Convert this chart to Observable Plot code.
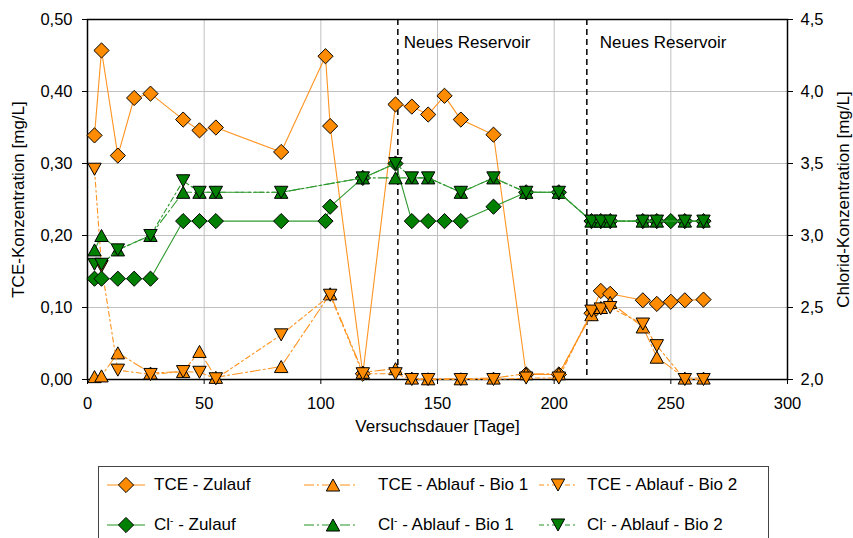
<!DOCTYPE html>
<html><head><meta charset="utf-8">
<script src="https://cdn.jsdelivr.net/npm/d3@7"></script>
<script src="https://cdn.jsdelivr.net/npm/@observablehq/plot@0.6"></script>
<style>
body{margin:0;background:#fff;font-family:"Liberation Sans",Arial,sans-serif;}
#wrap{position:relative;width:853px;height:538px;overflow:hidden;background:#fff;}
#legend{position:absolute;left:98px;top:466px;width:671px;height:100px;border:1px solid #444;box-sizing:border-box;}
.lg-icon{position:absolute;}
.lg-text{position:absolute;font-size:17px;line-height:20px;color:#000;white-space:nowrap;}
.lg-text sup{font-size:10px;vertical-align:6px;line-height:0;}
</style></head>
<body><div id="wrap"><div id="chart"></div><div id="legend"></div></div>
<script>
// ---------- data ----------
const xTicks = [0, 50, 100, 150, 200, 250, 300];
const tceTicks = [0, 0.1, 0.2, 0.3, 0.4, 0.5];
const clTicks = [2.0, 2.5, 3.0, 3.5, 4.0, 4.5];
const reservoirDays = [133, 214];

const zulaufDays = [3, 6, 13, 20, 27, 41, 48, 55, 83, 102, 104, 118, 132, 139, 146, 153, 160, 174, 188, 202, 216, 220, 224, 238, 244, 250, 256, 264];
const tceZulauf = [0.339, 0.457, 0.311, 0.391, 0.397, 0.361, 0.346, 0.350, 0.316, 0.449, 0.352, 0.008, 0.382, 0.379, 0.368, 0.394, 0.361, 0.340, 0.007, 0.007, 0.092, 0.123, 0.119, 0.110, 0.105, 0.108, 0.110, 0.111];
const clZulauf = [2.7, 2.7, 2.7, 2.7, 2.7, 3.1, 3.1, 3.1, 3.1, 3.1, 3.2, 3.4, 3.5, 3.1, 3.1, 3.1, 3.1, 3.2, 3.3, 3.3, 3.1, 3.1, 3.1, 3.1, 3.1, 3.1, 3.1, 3.1];

const tceAblaufDays = [3, 6, 13, 27, 41, 48, 55, 83, 104, 118, 132, 139, 146, 160, 174, 188, 202, 216, 220, 224, 238, 244, 256, 264];
const tceBio1 = [0.004, 0.005, 0.037, 0.009, 0.011, 0.039, 0.003, 0.018, 0.119, 0.010, 0.015, 0.002, 0.001, 0.001, 0.002, 0.008, 0.008, 0.090, 0.100, 0.107, 0.073, 0.031, 0.002, 0.002];
const tceBio2 = [0.292, 0.157, 0.013, 0.007, 0.011, 0.010, 0.001, 0.062, 0.117, 0.008, 0.008, 0.000, 0.000, 0.000, 0.000, 0.002, 0.002, 0.095, 0.098, 0.100, 0.077, 0.047, 0.000, 0.000];

const clAblaufDays = [3, 6, 13, 27, 41, 48, 55, 83, 118, 132, 139, 146, 160, 174, 188, 202, 216, 220, 224, 238, 244, 256, 264];
const clBio1 = [2.9, 3.0, 2.9, 3.0, 3.3, 3.3, 3.3, 3.3, 3.4, 3.4, 3.4, 3.4, 3.3, 3.4, 3.3, 3.3, 3.1, 3.1, 3.1, 3.1, 3.1, 3.1, 3.1];
const clBio2 = [2.8, 2.8, 2.9, 3.0, 3.38, 3.3, 3.3, 3.3, 3.4, 3.5, 3.4, 3.4, 3.3, 3.4, 3.3, 3.3, 3.1, 3.1, 3.1, 3.1, 3.1, 3.1, 3.1];

const labels = {
  x: "Versuchsdauer [Tage]",
  yLeft: "TCE-Konzentration [mg/L]",
  yRight: "Chlorid-Konzentration [mg/L]",
  reservoir: "Neues Reservoir"
};

// ---------- styling ----------
const ORANGE = "#ff8c00", ORANGE_LINE = "#ff9421";
const GREEN = "#008000", GREEN_LINE = "#2f9a2f";
const DASH1 = "10,3,2,3", DASH2 = "5,3,2,3";

// custom symbols (r = half-extent)
const rOf = size => Math.sqrt(size / Math.PI);
const diamondSym = {draw(ctx, size){ const r = rOf(size); ctx.moveTo(0,-r); ctx.lineTo(r,0); ctx.lineTo(0,r); ctx.lineTo(-r,0); ctx.closePath(); }};
const triUpSym = {draw(ctx, size){ const r = rOf(size), h = r*0.9; ctx.moveTo(0,-h); ctx.lineTo(r,h); ctx.lineTo(-r,h); ctx.closePath(); }};
const triDownSym = {draw(ctx, size){ const r = rOf(size), h = r*0.9; ctx.moveTo(0,h); ctx.lineTo(r,-h); ctx.lineTo(-r,-h); ctx.closePath(); }};

const toLeft = v => (v - 2) / 5; // Chlorid axis -> TCE axis
const comma = (v, n) => v.toFixed(n).replace(".", ",");

const series = [
  {name: "TCE - Zulauf", days: zulaufDays, vals: tceZulauf, cl: false, sym: diamondSym, r: 7.6, fill: ORANGE, line: ORANGE_LINE, dash: null},
  {name: "TCE - Ablauf - Bio 1", days: tceAblaufDays, vals: tceBio1, cl: false, sym: triUpSym, r: 6.7, fill: ORANGE, line: ORANGE_LINE, dash: DASH1},
  {name: "TCE - Ablauf - Bio 2", days: tceAblaufDays, vals: tceBio2, cl: false, sym: triDownSym, r: 6.7, fill: ORANGE, line: ORANGE_LINE, dash: DASH2},
  {name: "Cl - Zulauf", days: zulaufDays, vals: clZulauf, cl: true, sym: diamondSym, r: 7.6, fill: GREEN, line: GREEN_LINE, dash: null},
  {name: "Cl - Ablauf - Bio 1", days: clAblaufDays, vals: clBio1, cl: true, sym: triUpSym, r: 6.7, fill: GREEN, line: GREEN_LINE, dash: DASH1},
  {name: "Cl - Ablauf - Bio 2", days: clAblaufDays, vals: clBio2, cl: true, sym: triDownSym, r: 6.7, fill: GREEN, line: GREEN_LINE, dash: DASH2}
];

const dataMarks = [];
for (const s of series) {
  const rows = s.days.map((d, i) => ({x: d, y: s.cl ? toLeft(s.vals[i]) : s.vals[i]}));
  dataMarks.push(Plot.line(rows, {x: "x", y: "y", stroke: s.line, strokeWidth: 1.1, strokeDasharray: s.dash || undefined}));
  dataMarks.push(Plot.dot(rows, {x: "x", y: "y", symbol: s.sym, r: s.r, fill: s.fill, stroke: "#000", strokeWidth: 1}));
}

const chart = Plot.plot({
  width: 853,
  height: 455,
  marginLeft: 87,
  marginRight: 66,
  marginTop: 19,
  marginBottom: 76,
  style: {fontFamily: '"Liberation Sans", Arial, sans-serif', fontSize: "16.5px", color: "#000", background: "#fff", overflow: "visible"},
  x: {domain: [0, 300]},
  y: {domain: [0, 0.5]},
  marks: [
    Plot.gridX(xTicks.slice(1, -1), {stroke: "#c0c0c0", strokeOpacity: 1, strokeWidth: 1}),
    Plot.gridY(tceTicks.slice(1, -1), {stroke: "#c0c0c0", strokeOpacity: 1, strokeWidth: 1}),
    Plot.ruleX(reservoirDays, {stroke: "#000", strokeWidth: 1.5, strokeDasharray: "6,4"}),
    Plot.frame({stroke: "#000", strokeWidth: 1.5}),
    Plot.axisX(xTicks, {tickSize: 5, tickPadding: 13, tickFormat: d => String(d), label: null}),
    Plot.axisY(tceTicks, {tickSize: 5, tickPadding: 10, tickFormat: d => comma(d, 2), label: null}),
    Plot.axisY(clTicks.map(toLeft), {anchor: "right", tickSize: 5, tickPadding: 8, tickFormat: d => comma(d * 5 + 2, 1), label: null}),
    Plot.text([labels.yLeft], {frameAnchor: "left", textAnchor: "middle", dx: -69, rotate: -90, fontSize: 17}),
    Plot.text([labels.yRight], {frameAnchor: "right", textAnchor: "middle", dx: 56, rotate: -90, fontSize: 17}),
    Plot.text([labels.x], {frameAnchor: "bottom", dy: 52, fontSize: 17}),
    Plot.text([labels.reservoir], {x: reservoirDays[0], frameAnchor: "top", textAnchor: "start", dx: 6, dy: 16, fontSize: 17}),
    Plot.text([labels.reservoir], {x: reservoirDays[1], frameAnchor: "top", textAnchor: "start", dx: 13, dy: 16, fontSize: 17}),
    ...dataMarks
  ]
});
document.getElementById("chart").appendChild(chart);

// ---------- legend ----------
const legend = document.getElementById("legend");
const cols = [{line: [8, 46], mark: 27, text: 55}, {line: [205, 259], mark: 234, text: 279}, {line: [440, 479], mark: 459, text: 488}];
const rowsY = [18, 58];
series.forEach((s, i) => {
  const col = cols[i % 3], row = rowsY[Math.floor(i / 3)];
  const svg = d3.create("svg").attr("class", "lg-icon").attr("width", 70).attr("height", 24)
    .style("left", (col.line[0] - 2) + "px").style("top", (row - 12) + "px");
  svg.append("line").attr("x1", 2).attr("x2", col.line[1] - col.line[0] + 2).attr("y1", 12).attr("y2", 12)
    .attr("stroke", s.line).attr("stroke-opacity", 0.7).attr("stroke-width", 1.5).attr("stroke-dasharray", s.dash || null);
  const p = d3.path();
  s.sym.draw(p, Math.PI * s.r * s.r);
  svg.append("path").attr("d", p.toString()).attr("transform", `translate(${col.mark - col.line[0] + 2},12)`)
    .attr("fill", s.fill).attr("stroke", "#000").attr("stroke-width", 1);
  legend.appendChild(svg.node());
  const t = document.createElement("div");
  t.className = "lg-text";
  t.style.left = col.text + "px";
  t.style.top = (row - 10) + "px";
  if (s.cl) t.innerHTML = "Cl<sup>-</sup>" + s.name.slice(2);
  else t.textContent = s.name;
  legend.appendChild(t);
});
</script>
</body></html>
